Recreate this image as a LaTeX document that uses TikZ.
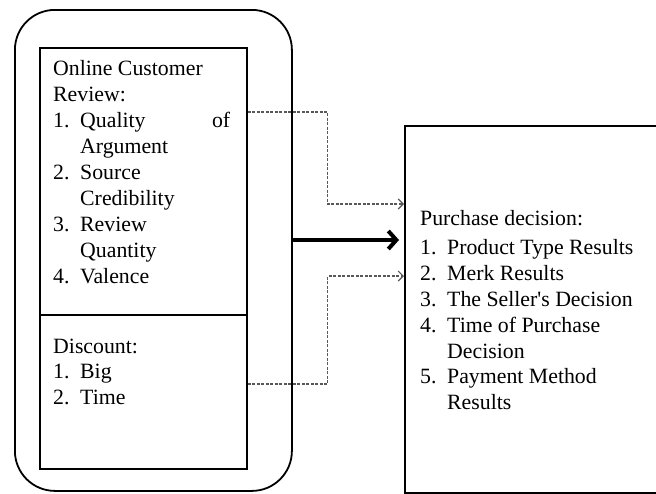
\documentclass[tikz,border=0pt]{standalone}
\usepackage{fontspec}
\setmainfont{Liberation Serif}
\newfontfamily\plainserif{Liberation Serif}
\usetikzlibrary{arrows.meta}
\newcommand{\itm}[1]{\makebox[27pt][l]{#1}}
\newcommand{\hang}{\hspace*{27pt}}
\begin{document}
\begin{tikzpicture}[x=1pt,y=-1pt,
  boxstyle/.style={draw, line width=1.8pt, inner sep=0pt, anchor=north west},
  txt/.style={anchor=base west, inner sep=0pt, font=\fontsize{21.8pt}{25.8pt}\selectfont},
  dashline/.style={draw=black!65, line width=1.1pt, dash pattern=on 3pt off 1.5pt,
    -{Straight Barb[length=5pt,width=10pt]}},
  bigarrow/.style={line width=4pt, -{Straight Barb[length=8pt,width=18pt]}}
]
\useasboundingbox (0,0) rectangle (656,493);
\fill[white] (0,0) rectangle (656,493);
% boxes
\node[boxstyle, rounded corners=40pt, minimum width=277pt, minimum height=481pt] (outer) at (14,9) {};
\node[boxstyle, minimum width=207pt, minimum height=267pt] (rev) at (39,47) {};
\node[boxstyle, minimum width=207pt, minimum height=154pt] (disc) at (39,314) {};
\node[boxstyle, minimum width=262pt, minimum height=367pt] (dec) at (404,125) {};
% texts
\node[txt] (revtxt) at (53,75) {\parbox[t]{177pt}{\fontsize{21.8pt}{26pt}\selectfont\raggedright
Online Customer\\
Review:\\
\itm{1.}Quality\hfill of\\
\hang Argument\\
\itm{2.}Source\\
\hang Credibility\\
\itm{3.}Review\\
\hang Quantity\\
\itm{4.}Valence}};
\node[txt] (disctxt) at (53,353) {\parbox[t]{177pt}{\fontsize{21.8pt}{25.5pt}\selectfont\raggedright
Discount:\\
\itm{1.}Big\\
\itm{2.}Time}};
\node[txt] (dectxt) at (420,225) {\parbox[t]{230pt}{\fontsize{21.8pt}{25.8pt}\selectfont\raggedright
Purchase decision:\\[4pt]
\itm{1.}Product Type Results\\
\itm{2.}Merk Results\\
\itm{3.}The Seller{\plainserif '}s Decision\\
\itm{4.}Time of Purchase\\
\hang Decision\\
\itm{5.}Payment Method\\
\hang Results}};
% connectors
\coordinate (ya) at (0,112);
\coordinate (yb) at (0,204);
\coordinate (yc) at (0,384);
\coordinate (yd) at (0,276);
\coordinate (ye) at (0,240);
\draw[dashline] (rev.east |- ya) -- ++(80,0) |- (dec.west |- yb);
\draw[dashline] (disc.east |- yc) -- ++(80,0) |- (dec.west |- yd);
\draw[bigarrow] (outer.east |- ye) -- ([xshift=-5pt]dec.west |- ye);
\end{tikzpicture}
\end{document}
